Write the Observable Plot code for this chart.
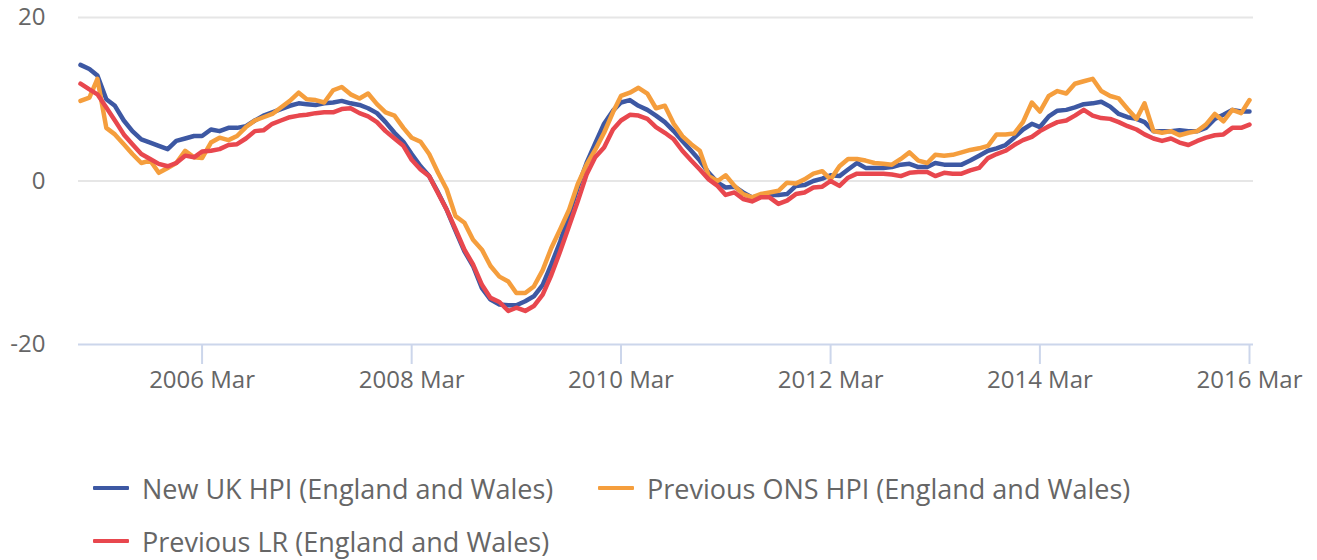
<!DOCTYPE html>
<html>
<head>
<meta charset="utf-8">
<script src="https://cdn.jsdelivr.net/npm/d3@7"></script>
<script src="https://cdn.jsdelivr.net/npm/@observablehq/plot@0.6"></script>
<style>
  html, body { margin: 0; padding: 0; background: #fff; }
  #wrap { position: relative; width: 1317px; height: 560px; font-family: "Open Sans", sans-serif; }
  .legend-item { position: absolute; display: flex; align-items: center; font-size: 27px; color: #666; white-space: nowrap; }
  .legend-item .sym { width: 36px; height: 4px; margin-right: 13px; border-radius: 1px; }
</style>
</head>
<body>
<div id="wrap"></div>
<script>
// Start month of the series and number of monthly observations
const startYear = 2005;
const startMonth = 0; // January
const seriesNames = ["New UK HPI (England and Wales)", "Previous ONS HPI (England and Wales)", "Previous LR (England and Wales)"];
const seriesColors = ["#3d58a3", "#f59e3d", "#e8474e"];

// Annual % change, monthly, Jan 2005 – Mar 2016
const newUkHpi = [
  14.2, 13.7, 12.9, 10.0, 9.2, 7.4, 6.1, 5.1, 4.7, 4.3, 3.9, 4.9,
  5.2, 5.5, 5.5, 6.3, 6.1, 6.5, 6.5, 6.7, 7.4, 8.0, 8.4, 8.8,
  9.2, 9.5, 9.4, 9.3, 9.5, 9.6, 9.8, 9.5, 9.3, 8.9, 8.3, 7.2,
  5.9, 4.8, 3.3, 1.8, 0.6, -1.4, -3.5, -6.1, -8.6, -10.4, -13.1, -14.5,
  -15.1, -15.2, -15.2, -14.7, -14.1, -12.7, -10.2, -7.4, -4.1, -0.8, 2.2, 4.6,
  7.0, 8.6, 9.6, 9.9, 9.2, 8.7, 8.0, 7.2, 6.1, 4.9, 3.7, 2.5,
  1.0, -0.2, -0.8, -0.7, -1.4, -2.0, -1.8, -1.7, -1.7, -1.6, -0.6, -0.5,
  0.0, 0.3, 0.7, 0.6, 1.4, 2.2, 1.6, 1.6, 1.6, 1.7, 2.0, 2.1,
  1.7, 1.7, 2.2, 2.0, 2.0, 2.0, 2.5, 3.1, 3.7, 4.0, 4.4, 5.3,
  6.3, 7.0, 6.6, 7.9, 8.6, 8.7, 9.0, 9.4, 9.5, 9.7, 9.1, 8.2,
  7.8, 7.6, 7.2, 6.1, 6.1, 6.1, 6.2, 6.1, 6.1, 6.5, 7.6, 8.1,
  8.7, 8.5, 8.5
];
const prevOnsHpi = [
  9.8, 10.2, 12.5, 6.5, 5.7, 4.5, 3.3, 2.2, 2.5, 1.0, 1.6, 2.2,
  3.7, 2.9, 2.8, 4.7, 5.3, 5.0, 5.5, 6.6, 7.4, 7.8, 8.2, 9.0,
  9.8, 10.8, 10.0, 9.9, 9.6, 11.1, 11.5, 10.6, 10.1, 10.7, 9.4, 8.4,
  8.0, 6.5, 5.3, 4.8, 3.3, 1.0, -1.0, -4.3, -5.1, -7.2, -8.4, -10.4,
  -11.7, -12.3, -13.7, -13.7, -12.9, -10.9, -8.2, -5.9, -3.5, -0.4, 2.0, 3.8,
  5.9, 8.4, 10.4, 10.8, 11.4, 10.7, 8.9, 9.2, 7.0, 5.5, 4.5, 3.7,
  0.6, 0.0, 0.7, -0.6, -1.6, -2.0, -1.6, -1.4, -1.2, -0.2, -0.3, 0.2,
  0.9, 1.2, 0.2, 1.8, 2.7, 2.7, 2.5, 2.2, 2.1, 2.0, 2.7, 3.5,
  2.5, 2.2, 3.2, 3.1, 3.2, 3.5, 3.8, 4.0, 4.3, 5.7, 5.7, 5.8,
  7.2, 9.6, 8.5, 10.4, 11.0, 10.7, 11.9, 12.2, 12.5, 11.0, 10.4, 10.1,
  8.8, 7.6, 9.5, 6.1, 5.9, 6.1, 5.6, 5.9, 6.1, 6.9, 8.2, 7.3,
  8.7, 8.3, 9.9
];
const prevLr = [
  11.9, 11.2, 10.6, 9.0, 7.4, 5.7, 4.5, 3.3, 2.7, 2.1, 1.8, 2.2,
  3.1, 2.9, 3.6, 3.7, 3.9, 4.4, 4.5, 5.2, 6.1, 6.2, 7.0, 7.4,
  7.8, 8.0, 8.1, 8.3, 8.4, 8.4, 8.8, 8.9, 8.3, 7.9, 7.2, 6.1,
  5.2, 4.3, 2.6, 1.4, 0.6, -1.5, -3.5, -5.9, -8.4, -10.2, -12.7, -14.3,
  -14.8, -15.9, -15.5, -15.9, -15.3, -13.9, -11.5, -8.6, -5.5, -2.5, 0.8, 2.9,
  4.1, 6.3, 7.4, 8.1, 8.0, 7.6, 6.6, 5.9, 5.1, 3.7, 2.5, 1.4,
  0.2, -0.6, -1.7, -1.4, -2.2, -2.5, -2.0, -2.0, -2.8, -2.4, -1.6, -1.4,
  -0.8, -0.7, 0.0, -0.6, 0.4, 0.9, 0.9, 0.9, 0.9, 0.8, 0.6, 1.0,
  1.1, 1.1, 0.6, 1.0, 0.9, 0.9, 1.3, 1.6, 2.8, 3.3, 3.7, 4.4,
  5.0, 5.4, 6.1, 6.7, 7.2, 7.4, 8.0, 8.7, 8.0, 7.7, 7.6, 7.2,
  6.7, 6.3, 5.7, 5.2, 4.9, 5.2, 4.7, 4.4, 4.9, 5.3, 5.6, 5.7,
  6.5, 6.5, 6.9
];
const tickYears = [2006, 2008, 2010, 2012, 2014, 2016];
const tickMonthLabel = "Mar";
const yTicks = [-20, 0, 20];

const seriesValues = [newUkHpi, prevOnsHpi, prevLr];
const monthDate = i => new Date(Date.UTC(startYear, startMonth + i, 1));
const rows = [];
seriesValues.forEach((vals, s) => vals.forEach((v, i) => rows.push({series: seriesNames[s], date: monthDate(i), value: v})));
const tickDates = tickYears.map(y => new Date(Date.UTC(y, 2, 1)));
const nMonths = newUkHpi.length;

const font = "'Open Sans', sans-serif";
const chart = Plot.plot({
  width: 1317,
  height: 420,
  marginLeft: 80,
  marginRight: 68,
  marginTop: 17,
  marginBottom: 76,
  style: {fontFamily: font, background: "transparent", overflow: "visible"},
  x: {type: "utc", domain: [monthDate(0), monthDate(nMonths - 1)]},
  y: {domain: [-20, 20]},
  color: {domain: seriesNames, range: seriesColors},
  marks: [
    Plot.ruleY(yTicks.filter(d => d !== -20), {stroke: "#e6e6e6", strokeWidth: 2, insetLeft: -2, insetRight: -4}),
    Plot.ruleY([-20], {stroke: "#ccd6eb", strokeWidth: 2, insetLeft: -2, insetRight: -4}),
    Plot.axisX({ticks: tickDates, tickFormat: d => `${d.getUTCFullYear()} ${tickMonthLabel}`, tickSize: 20, tickPadding: 6,
      stroke: "#ccd6eb", strokeWidth: 2, fill: "#666", fontSize: 24, label: null}),
    Plot.axisY({ticks: yTicks, tickFormat: d => String(d), tickSize: 0, tickPadding: 35, fill: "#666", fontSize: 24, label: null}),
    Plot.lineY(rows, {x: "date", y: "value", z: "series", stroke: "series", strokeWidth: 4.5, strokeLinejoin: "round", strokeLinecap: "round"})
  ]
});

const wrap = document.getElementById("wrap");
wrap.appendChild(chart);

const legendPos = [[93, 488], [598, 488], [93, 541]];
seriesNames.forEach((name, i) => {
  const item = document.createElement("div");
  item.className = "legend-item";
  item.style.left = legendPos[i][0] + "px";
  item.style.top = (legendPos[i][1] - 18) + "px";
  item.style.height = "36px";
  const sym = document.createElement("div");
  sym.className = "sym";
  sym.style.background = seriesColors[i];
  const label = document.createElement("span");
  label.textContent = name;
  item.appendChild(sym);
  item.appendChild(label);
  wrap.appendChild(item);
});
</script>
</body>
</html>
